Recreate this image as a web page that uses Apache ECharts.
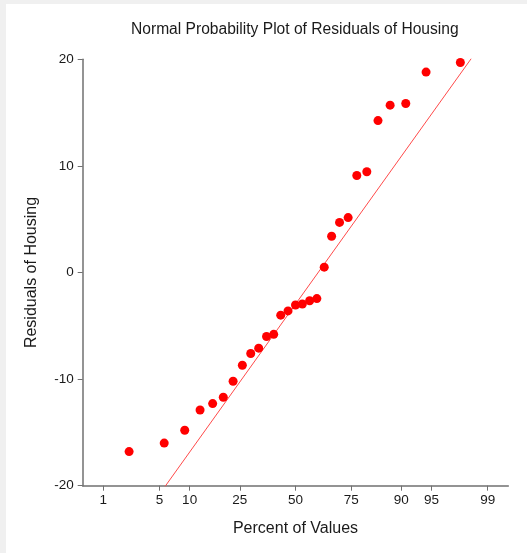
<!DOCTYPE html>
<html>
<head>
<meta charset="utf-8">
<script src="https://cdn.jsdelivr.net/npm/echarts@6/dist/echarts.min.js"></script>
<style>
  html, body { margin: 0; padding: 0; background: #f0f0f0; width: 527px; height: 553px; overflow: hidden; }
  #chart { position: absolute; left: 6px; top: 4px; width: 521px; height: 549px; background: #ffffff; }
</style>
</head>
<body>
<div id="chart"></div>
<script>
// Percent (plotting position) of each residual
const percents = [2.2, 5.6, 9.0, 12.4, 15.8, 19.1, 22.5, 26.0, 29.4, 32.8, 36.3, 39.6, 42.9, 46.4, 50.0,
                  53.3, 56.8, 60.2, 63.6, 66.9, 70.3, 73.8, 77.1, 80.6, 84.1, 87.4, 90.9, 94.3, 97.7];
// Residuals of Housing (sorted)
const residuals = [-16.8, -16.0, -14.8, -12.9, -12.3, -11.7, -10.2, -8.7, -7.6, -7.1, -6.0, -5.8, -4.0, -3.6, -3.05,
                   -2.95, -2.65, -2.45, 0.5, 3.4, 4.7, 5.15, 9.1, 9.45, 14.25, 15.7, 15.85, 18.8, 19.7];
// Percent tick labels on the probability axis
const xTickLabels = [1, 5, 10, 25, 50, 75, 90, 95, 99];
const xAxisPercentRange = [0.5, 99.5];
// Y axis ticks
const yTicks = [-20, -10, 0, 10, 20];
// Reference line: residual = intercept + slope * normal score
const refIntercept = -2.97;
const refSlope = 10.83;

// Probability scale transform (inverse standard normal CDF, Acklam)
function probit(p) {
  const a = [-3.969683028665376e+01, 2.209460984245205e+02, -2.759285104469687e+02, 1.383577518672690e+02, -3.066479806614716e+01, 2.506628277459239e+00];
  const b = [-5.447609879822406e+01, 1.615858368580409e+02, -1.556989798598866e+02, 6.680131188771972e+01, -1.328068155288572e+01];
  const c = [-7.784894002430293e-03, -3.223964580411365e-01, -2.400758277161838e+00, -2.549732539343734e+00, 4.374664141464968e+00, 2.938163982698783e+00];
  const d = [7.784695709041462e-03, 3.224671290700398e-01, 2.445134137142996e+00, 3.754408661907416e+00];
  const pl = 0.02425, ph = 1 - pl;
  let q, r;
  if (p < pl) {
    q = Math.sqrt(-2 * Math.log(p));
    return (((((c[0]*q+c[1])*q+c[2])*q+c[3])*q+c[4])*q+c[5]) / ((((d[0]*q+d[1])*q+d[2])*q+d[3])*q+1);
  } else if (p <= ph) {
    q = p - 0.5; r = q * q;
    return (((((a[0]*r+a[1])*r+a[2])*r+a[3])*r+a[4])*r+a[5])*q / (((((b[0]*r+b[1])*r+b[2])*r+b[3])*r+b[4])*r+1);
  } else {
    q = Math.sqrt(-2 * Math.log(1 - p));
    return -(((((c[0]*q+c[1])*q+c[2])*q+c[3])*q+c[4])*q+c[5]) / ((((d[0]*q+d[1])*q+d[2])*q+d[3])*q+1);
  }
}
const toZ = pct => probit(pct / 100);

const xMin = toZ(xAxisPercentRange[0]);
const xMax = toZ(xAxisPercentRange[1]);
const tickZ = xTickLabels.map(toZ);
const points = percents.map((p, i) => [toZ(p), residuals[i]]);
const refLine = [[xMin, refIntercept + refSlope * xMin], [xMax, refIntercept + refSlope * xMax]];

const FONT = '"Liberation Sans", Arial, sans-serif';
const TXT = '#1a1a1a';
const AX = '#707070';

const chart = echarts.init(document.getElementById('chart'), null, { renderer: 'canvas' });
chart.setOption({
  animation: false,
  backgroundColor: '#ffffff',
  title: {
    text: 'Normal Probability Plot of Residuals of Housing',
    left: 120, top: 13,
    textStyle: { fontFamily: FONT, fontSize: 15.6, fontWeight: 'normal', color: TXT }
  },
  grid: { left: 76.7, right: 18.7, top: 55.3, bottom: 67.3, containLabel: false },
  xAxis: {
    type: 'value', min: xMin, max: xMax,
    name: 'Percent of Values', nameLocation: 'middle', nameGap: 35,
    nameTextStyle: { fontFamily: FONT, fontSize: 16, color: TXT },
    axisLine: { show: true, onZero: false, lineStyle: { color: AX, width: 1.5 } },
    axisTick: { show: true, length: 5, customValues: tickZ, lineStyle: { color: AX } },
    axisLabel: {
      customValues: tickZ, margin: 8, fontFamily: FONT, fontSize: 13.5, color: TXT,
      formatter: v => {
        let best = 0;
        tickZ.forEach((z, i) => { if (Math.abs(z - v) < Math.abs(tickZ[best] - v)) best = i; });
        return String(xTickLabels[best]);
      }
    },
    splitLine: { show: false }
  },
  yAxis: {
    type: 'value', min: yTicks[0], max: yTicks[yTicks.length - 1], interval: 10,
    name: 'Residuals of Housing', nameLocation: 'middle', nameGap: 43,
    nameTextStyle: { fontFamily: FONT, fontSize: 16, color: TXT },
    axisLine: { show: true, onZero: false, lineStyle: { color: AX, width: 1.5 } },
    axisTick: { show: true, length: 5, lineStyle: { color: AX } },
    axisLabel: { margin: 9, fontFamily: FONT, fontSize: 13.5, color: TXT },
    splitLine: { show: false }
  },
  series: [
    {
      type: 'line', data: refLine, symbol: 'none', clip: true, silent: true,
      lineStyle: { color: '#ff4a4a', width: 1 }, z: 2
    },
    {
      type: 'scatter', data: points, symbol: 'circle', symbolSize: 9,
      itemStyle: { color: '#ff0000', opacity: 1 }, z: 3
    }
  ]
});
</script>
</body>
</html>
